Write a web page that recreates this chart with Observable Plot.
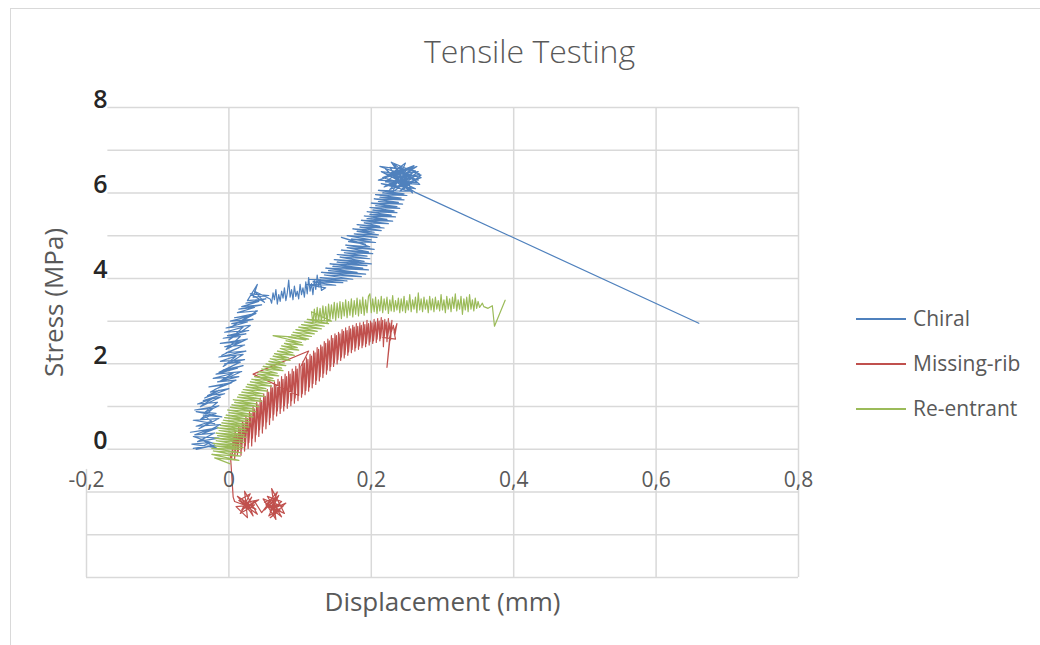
<!DOCTYPE html>
<html>
<head>
<meta charset="utf-8">
<script src="https://cdn.jsdelivr.net/npm/d3@7"></script>
<script src="https://cdn.jsdelivr.net/npm/@observablehq/plot@0.6"></script>
<style>
  html, body { margin: 0; padding: 0; background: #fff; }
  #wrap { position: relative; width: 1040px; height: 645px; overflow: hidden; font-family: 'Open Sans', sans-serif; }
  #border { position: absolute; left: 10px; top: 8px; width: 1200px; height: 800px; border-left: 1.3px solid #d9d9d9; border-top: 1.3px solid #d9d9d9; }
  #chart { position: absolute; left: 0; top: 0; }
  .lg-line { position: absolute; height: 1.5px; width: 50px; }
  .lg-text { position: absolute; font-size: 21px; color: #595959; line-height: 28px; white-space: nowrap; }
</style>
</head>
<body>
<div id="wrap"><div id="border"></div><div id="chart"></div><div id="legend"></div></div>
<script>
const chartTitle = "Tensile Testing";
const xTitle = "Displacement (mm)";
const yTitle = "Stress (MPa)";
const seriesNames = ["Chiral", "Missing-rib", "Re-entrant"];
const seriesColors = ["#4f81bd", "#c0504d", "#9bbb59"];
const yTicks = [0, 2, 4, 6, 8];
const yGrid = [-3, -2, -1, 0, 1, 2, 3, 4, 5, 6, 7, 8];
const xTicks = [-0.2, 0, 0.2, 0.4, 0.6, 0.8];
const xTickLabels = ["-0,2", "0", "0,2", "0,4", "0,6", "0,8"];
const upperGridStart = -0.17;
const leftLineTop = -0.47;

// Chiral: [displacement mm, stress MPa]
const chiral = [
[-0.050,0.02],[-0.020,0.10],[-0.046,0.00],[-0.026,0.16],[-0.052,0.12],[-0.018,0.04],[-0.040,0.24],[-0.022,0.14],[-0.050,0.30],[-0.014,0.26],
[-0.044,0.18],[-0.020,0.38],[-0.048,0.34],[-0.028,0.46],[-0.054,0.40],[-0.016,0.50],[-0.038,0.36],[-0.012,0.58],[-0.046,0.54],[-0.024,0.66],
[-0.042,0.48],[-0.014,0.72],[-0.050,0.68],[-0.020,0.60],[-0.036,0.80],[-0.010,0.76],[-0.046,0.88],[-0.018,0.84],[-0.040,0.70],[-0.022,0.96],
[-0.048,0.92],[-0.014,1.02],[-0.034,0.86],[-0.016,1.10],[-0.044,1.06],[-0.024,1.18],[-0.040,1.00],[-0.012,1.22],[-0.036,1.14],[-0.006,1.30],
[-0.030,1.26],[-0.014,1.38],[-0.034,1.20],[0.000,1.42],[-0.026,1.34],[-0.008,1.50],[-0.028,1.46],[0.004,1.56],[-0.020,1.40],[0.010,1.62],
[-0.016,1.58],[0.014,1.70],[-0.022,1.66],[0.006,1.78],[-0.012,1.60],[0.018,1.82],[-0.018,1.76],[0.012,1.90],[-0.008,1.86],[0.020,1.96],
[-0.014,1.80],[0.016,2.04],[-0.006,2.00],[0.022,2.10],[-0.012,2.06],[0.010,2.18],[-0.008,1.94],[0.020,2.22],[-0.014,2.16],[0.024,2.30],
[-0.004,2.26],[0.014,2.38],[-0.010,2.20],[0.022,2.44],[-0.006,2.40],[0.018,2.52],[-0.012,2.48],[0.026,2.58],[-0.004,2.34],[0.016,2.64],
[-0.008,2.60],[0.024,2.70],[-0.002,2.66],[0.028,2.78],[-0.006,2.74],[0.020,2.86],[0.000,2.56],[0.030,2.90],[-0.004,2.84],[0.026,2.98],
[0.004,2.94],[0.034,3.04],[0.002,3.00],[0.030,3.12],[0.008,3.08],[0.038,3.18],[0.006,2.90],[0.040,3.24],[0.012,3.20],[0.036,3.32],
[0.014,3.28],[0.046,3.38],[0.018,3.34],[0.042,3.46],[0.024,3.42],[0.052,3.52],[0.026,3.48],[0.040,3.86],[0.034,3.56],[0.056,3.60],
[0.030,3.64],[0.050,3.44],[0.036,3.70],[0.058,3.52],
[0.060,3.42],[0.062,3.66],[0.064,3.50],[0.066,3.74],[0.068,3.40],[0.070,3.62],[0.072,3.46],[0.074,3.70],[0.076,3.54],[0.078,3.78],
[0.080,3.48],[0.082,3.66],[0.084,3.96],[0.086,3.56],[0.088,3.74],[0.090,3.50],[0.092,3.82],[0.094,3.58],[0.096,3.70],[0.098,3.52],
[0.100,3.86],[0.102,3.62],[0.104,3.78],[0.106,3.56],[0.108,3.92],[0.110,3.64],[0.112,4.02],[0.114,3.70],[0.116,3.88],[0.118,3.62],
[0.120,3.96],[0.122,3.74],[0.124,4.08],[0.126,3.80],[0.128,3.98],[0.130,3.72],
[0.136,3.78],[0.108,3.86],[0.150,3.84],[0.118,3.92],[0.160,3.90],[0.112,3.98],[0.166,3.94],[0.128,4.02],[0.174,3.98],[0.134,4.08],
[0.186,4.04],[0.130,4.14],[0.192,4.10],[0.140,4.18],[0.180,4.14],[0.136,4.24],[0.196,4.20],[0.146,4.28],[0.188,4.24],[0.142,4.34],
[0.194,4.30],[0.152,4.38],[0.200,4.34],[0.148,4.44],[0.190,4.40],[0.156,4.50],[0.198,4.46],[0.152,4.56],[0.194,4.52],[0.162,4.60],
[0.202,4.58],[0.158,4.66],[0.196,4.62],[0.166,4.72],[0.204,4.68],[0.164,4.78],[0.198,4.74],[0.158,4.96],[0.192,4.80],[0.168,4.86],
[0.206,4.84],[0.172,4.92],[0.200,4.90],[0.166,5.00],[0.208,4.96],[0.176,5.04],[0.210,5.02],[0.180,5.10],[0.204,5.08],[0.174,5.16],
[0.214,5.12],[0.184,5.20],[0.218,5.18],[0.180,5.26],[0.212,5.22],[0.190,5.30],[0.224,5.28],[0.186,5.36],[0.230,5.34],[0.194,5.40],
[0.222,5.38],[0.190,5.46],[0.234,5.44],[0.198,5.50],[0.228,5.48],[0.194,5.56],[0.236,5.54],[0.202,5.60],[0.232,5.58],[0.198,5.66],
[0.240,5.64],[0.206,5.70],[0.236,5.68],[0.200,5.76],[0.244,5.74],[0.210,5.80],[0.238,5.78],[0.204,5.86],[0.246,5.84],[0.212,5.90],
[0.242,5.88],[0.206,5.96],[0.250,5.94],[0.216,6.00],[0.246,5.98],[0.210,6.06],[0.254,6.04],
[0.214,6.22],[0.262,6.10],[0.218,6.46],[0.266,6.30],[0.212,6.62],[0.256,6.52],[0.222,6.18],[0.268,6.44],[0.228,6.72],[0.250,6.20],
[0.216,6.36],[0.260,6.64],[0.226,6.08],[0.270,6.36],[0.220,6.56],[0.252,6.06],[0.232,6.68],[0.264,6.24],[0.210,6.30],[0.258,6.58],
[0.236,6.12],[0.266,6.50],[0.224,6.40],[0.248,6.70],[0.230,6.02],[0.262,6.40],[0.214,6.50],[0.254,6.16],[0.240,6.62],[0.268,6.20],
[0.220,6.26],[0.244,6.54],[0.258,6.00],[0.228,6.48],[0.264,6.62],[0.234,6.30],[0.256,6.34],[0.218,6.14],[0.250,6.46],[0.238,6.22],
[0.262,6.52],[0.226,6.60],[0.246,6.10],[0.270,6.42],[0.232,6.40],[0.254,6.26],[0.240,6.04],[0.260,6.30],[0.236,6.54],[0.250,6.14],
[0.261,6.02],[0.660,2.95]
];

// Missing-rib
const missingRib = [
[0.062,-1.20],[0.050,-1.42],[0.070,-1.08],[0.056,-1.56],[0.076,-1.34],[0.048,-1.16],[0.066,-1.64],[0.060,-0.92],[0.078,-1.50],[0.052,-1.30],
[0.068,-1.00],[0.058,-1.46],[0.074,-1.22],[0.054,-1.10],[0.064,-1.38],[0.080,-1.26],[0.058,-1.60],[0.072,-1.42],[0.050,-1.24],[0.066,-1.12],
[0.062,-1.52],[0.070,-1.30],[0.056,-1.34],[0.074,-1.58],[0.060,-1.18],[0.046,-1.48],
[0.036,-1.22],[0.018,-1.42],[0.030,-1.04],[0.014,-1.20],[0.040,-1.52],[0.022,-0.98],[0.026,-1.60],[0.010,-1.34],[0.036,-1.30],[0.016,-1.50],
[0.032,-1.12],[0.024,-1.38],[0.042,-1.18],[0.020,-1.26],[0.030,-1.46],[0.012,-1.10],[0.028,-1.28],[0.034,-1.56],[0.018,-1.16],[0.038,-1.40],
[0.008,-1.22],[0.006,-1.12],[0.002,-0.10],
[0.004,-0.20],[0.006,0.30],[0.005,-0.10],[0.009,0.44],[0.008,-0.24],[0.011,0.36],[0.012,-0.12],[0.014,0.56],[0.013,-0.06],[0.016,0.50],
[0.017,-0.14],[0.019,0.66],[0.018,0.02],[0.021,0.62],[0.022,-0.04],[0.024,0.78],[0.023,0.08],[0.026,0.72],[0.027,0.02],[0.029,0.90],
[0.028,0.16],[0.031,0.84],[0.032,0.08],[0.034,1.00],[0.033,0.26],[0.036,0.94],[0.037,0.18],[0.039,1.10],[0.038,0.34],[0.041,1.04],
[0.042,0.30],[0.044,1.20],[0.043,0.46],[0.046,1.14],[0.047,0.38],[0.049,1.30],[0.048,0.54],[0.051,1.24],[0.052,0.48],[0.054,1.40],
[0.053,0.64],[0.056,1.34],[0.057,0.58],[0.059,1.50],[0.058,0.74],[0.061,1.44],[0.062,0.68],[0.064,1.58],[0.063,0.82],[0.066,1.52],
[0.067,0.78],[0.069,1.64],[0.068,0.90],[0.071,1.58],[0.072,0.84],[0.074,1.70],[0.073,0.96],[0.076,1.64],[0.077,0.90],[0.079,1.76],
[0.078,1.02],[0.081,1.70],[0.082,0.96],[0.084,1.82],[0.083,1.08],[0.086,1.76],[0.087,1.02],[0.089,1.88],[0.088,1.14],[0.091,1.82],
[0.092,1.08],[0.094,1.94],[0.093,1.20],[0.096,1.88],[0.097,1.14],[0.099,2.00],[0.098,1.26],[0.034,1.76],[0.112,2.30],[0.101,1.94],
[0.102,1.22],[0.104,2.06],[0.103,1.30],[0.106,2.02],[0.107,1.28],[0.109,2.14],[0.108,1.38],[0.111,2.10],[0.112,1.36],[0.114,2.22],
[0.113,1.46],[0.116,2.18],[0.117,1.44],[0.119,2.30],[0.118,1.54],[0.121,2.26],[0.122,1.52],[0.124,2.38],[0.123,1.62],[0.126,2.34],
[0.127,1.60],[0.129,2.44],[0.128,1.70],[0.131,2.40],[0.132,1.68],[0.134,2.52],[0.133,1.78],[0.136,2.48],[0.137,1.76],[0.139,2.58],
[0.138,1.86],[0.141,2.54],[0.142,1.84],[0.144,2.66],[0.143,1.94],[0.146,2.60],[0.147,1.94],[0.149,2.70],[0.148,2.02],[0.151,2.66],
[0.152,2.00],[0.154,2.74],[0.153,2.10],[0.156,2.70],[0.157,2.08],[0.159,2.80],[0.158,2.16],[0.161,2.76],[0.162,2.14],[0.164,2.84],
[0.163,2.22],[0.166,2.78],[0.167,2.20],[0.169,2.88],[0.168,2.28],[0.171,2.82],[0.172,2.26],[0.174,2.90],[0.173,2.34],[0.176,2.86],
[0.177,2.30],[0.179,2.94],[0.178,2.38],[0.181,2.88],[0.182,2.34],[0.184,2.96],[0.183,2.42],[0.186,2.90],[0.187,2.38],[0.189,2.98],
[0.188,2.44],[0.191,2.92],[0.192,2.40],[0.194,3.02],[0.193,2.48],[0.196,2.94],[0.197,2.44],[0.199,3.00],[0.198,2.52],[0.201,2.96],
[0.202,2.48],[0.204,3.04],[0.203,2.54],[0.206,2.98],[0.207,2.50],[0.209,3.06],[0.208,2.58],[0.211,3.00],[0.212,2.54],[0.214,3.08],
[0.213,2.60],[0.216,3.02],[0.217,2.40],[0.219,3.04],[0.218,2.62],[0.221,2.98],[0.222,2.52],[0.224,3.06],[0.223,2.64],[0.226,2.96],
[0.227,2.56],[0.229,3.02],[0.222,1.92],[0.226,2.64],[0.231,2.90],[0.233,2.66],[0.236,2.94],[0.232,2.74],[0.234,2.58],[0.216,2.62]
];

// Re-entrant
const reEntrant = [
[0.002,-0.34],[-0.020,-0.20],[0.014,-0.26],[-0.024,-0.12],[0.016,-0.16],[-0.022,-0.04],[0.018,-0.08],[-0.024,0.02],[0.016,0.00],[-0.020,0.08],
[0.020,0.04],[-0.022,0.14],[0.018,0.10],[-0.018,0.20],[0.022,0.16],[-0.020,0.26],[0.020,0.22],[-0.016,0.32],[0.024,0.28],[-0.018,0.38],
[0.022,0.34],[-0.014,0.44],[0.026,0.40],[-0.016,0.50],[0.024,0.46],[-0.012,0.56],[0.028,0.52],[-0.010,0.62],[0.026,0.58],[-0.008,0.68],
[0.030,0.64],[-0.006,0.74],[0.028,0.70],[-0.004,0.80],[0.034,0.76],[0.000,0.86],[0.032,0.82],[-0.002,0.92],[0.038,0.88],[0.002,0.98],
[0.036,0.94],[0.004,1.04],[0.042,1.00],[0.008,1.10],[0.040,1.06],[0.006,1.16],[0.046,1.12],[0.012,1.22],[0.044,1.18],[0.014,1.28],
[0.050,1.24],[0.018,1.34],[0.048,1.30],[0.020,1.40],[0.054,1.36],[0.024,1.46],[0.052,1.42],[0.026,1.52],[0.060,1.48],[0.030,1.58],
[0.058,1.54],[0.032,1.64],[0.064,1.60],[0.036,1.70],[0.062,1.66],[0.040,1.76],[0.070,1.72],[0.042,1.82],[0.068,1.78],[0.046,1.88],
[0.076,1.84],[0.048,1.94],[0.074,1.90],[0.052,2.00],[0.080,1.96],[0.056,2.06],[0.078,2.02],[0.058,2.12],[0.086,2.08],[0.062,2.18],
[0.084,2.14],[0.064,2.24],[0.092,2.20],[0.068,2.30],[0.090,2.26],[0.072,2.36],[0.098,2.32],[0.074,2.42],[0.096,2.38],[0.078,2.48],
[0.104,2.44],[0.080,2.54],[0.102,2.50],[0.062,2.66],[0.088,2.63],[0.108,2.56],[0.084,2.62],[0.112,2.58],[0.088,2.68],[0.116,2.64],
[0.090,2.74],[0.120,2.70],[0.094,2.80],[0.124,2.76],[0.098,2.86],[0.130,2.82],[0.102,2.92],[0.134,2.88],[0.106,2.98],[0.140,2.94],
[0.110,3.04],[0.144,3.00],
[0.116,3.22],[0.118,2.96],[0.120,3.28],[0.122,2.98],[0.124,3.32],[0.126,3.00],[0.128,3.30],[0.130,2.98],[0.132,3.36],[0.134,3.02],
[0.136,3.34],[0.138,2.94],[0.140,3.40],[0.142,3.04],[0.144,3.38],[0.146,3.06],[0.148,3.44],[0.150,3.02],[0.152,3.42],[0.154,3.08],
[0.156,3.46],[0.158,3.06],[0.160,3.44],[0.162,3.12],[0.164,3.50],[0.166,3.08],[0.168,3.46],[0.170,3.14],[0.172,3.52],[0.174,3.10],
[0.176,3.48],[0.178,3.16],[0.180,3.54],[0.182,3.12],[0.184,3.50],[0.186,3.18],[0.188,3.56],[0.190,3.14],[0.192,3.50],[0.194,3.20],
[0.196,3.58],[0.198,3.64],[0.200,3.20],[0.202,3.52],[0.204,3.22],[0.206,3.56],[0.208,3.18],[0.210,3.50],[0.212,3.24],[0.214,3.58],
[0.216,3.20],[0.218,3.52],[0.220,3.26],[0.222,3.56],[0.224,3.18],[0.226,3.50],[0.228,3.24],[0.230,3.60],[0.232,3.22],[0.234,3.48],
[0.236,3.26],[0.238,3.54],[0.240,3.20],[0.242,3.52],[0.244,3.24],[0.246,3.58],[0.248,3.20],[0.250,3.48],[0.252,3.26],[0.254,3.62],
[0.256,3.22],[0.258,3.50],[0.260,3.28],[0.262,3.56],[0.264,3.20],[0.266,3.66],[0.268,3.26],[0.270,3.52],[0.272,3.22],[0.274,3.56],
[0.276,3.28],[0.278,3.50],[0.280,3.20],[0.282,3.58],[0.284,3.26],[0.286,3.52],[0.288,3.22],[0.290,3.56],[0.292,3.28],[0.294,3.48],
[0.296,3.24],[0.298,3.62],[0.300,3.26],[0.302,3.50],[0.304,3.20],[0.306,3.58],[0.308,3.28],[0.310,3.52],[0.312,3.22],[0.314,3.56],
[0.316,3.30],[0.318,3.64],[0.320,3.24],[0.322,3.50],[0.324,3.28],[0.326,3.58],[0.328,3.16],[0.330,3.52],[0.332,3.26],[0.334,3.56],
[0.336,3.22],[0.338,3.62],[0.340,3.28],[0.342,3.50],[0.344,3.24],[0.346,3.54],[0.348,3.30],[0.350,3.46],[0.352,3.32],[0.356,3.42],
[0.358,3.34],[0.364,3.30],[0.370,3.36],[0.373,2.88],[0.388,3.49]
];

const seriesData = [chiral, missingRib, reEntrant];

const plot = Plot.plot({
  width: 1040,
  height: 645,
  marginLeft: 86,
  marginRight: 242,
  marginTop: 107,
  marginBottom: 68,
  x: {domain: [-0.2, 0.8], axis: null},
  y: {domain: [-3, 8], axis: null},
  style: {fontFamily: "'Open Sans', sans-serif", background: "transparent", overflow: "visible"},
  marks: [
    Plot.ruleY(yGrid, {y: d => d, x1: d => d >= 0 ? upperGridStart : -0.2, x2: 0.8, stroke: "#d9d9d9", strokeWidth: 1.5}),
    Plot.ruleX(xTicks, {x: d => d, y1: d => d === -0.2 ? leftLineTop : 8, y2: -3, stroke: "#d9d9d9", strokeWidth: 1.5}),
    ...seriesData.map((s, i) => Plot.line(s, {x: d => d[0], y: d => d[1], stroke: seriesColors[i], strokeWidth: 1.2})),
    Plot.text(yTicks, {frameAnchor: "left", y: d => d, text: d => String(d), textAnchor: "end", lineAnchor: "middle", dx: 21, dy: -8, fontSize: 25, fontWeight: 600, fill: "#262626"}),
    Plot.text(xTicks, {x: d => d, y: 0, text: (d, i) => xTickLabels[i], lineAnchor: "middle", dy: 31, fontSize: 21, fill: "#595959"}),
    Plot.text([xTitle], {frameAnchor: "bottom", text: d => d, textAnchor: "middle", lineAnchor: "middle", dy: 25, fontSize: 26, fill: "#595959"}),
    Plot.text([yTitle], {frameAnchor: "left", text: d => d, rotate: -90, textAnchor: "middle", lineAnchor: "middle", dx: -32, dy: -40, fontSize: 26, fill: "#595959"}),
    Plot.text([chartTitle], {frameAnchor: "top", text: d => d, textAnchor: "middle", lineAnchor: "middle", dx: 87, dy: -55, fontSize: 32, fontWeight: 300, fill: "#595959"})
  ]
});
document.getElementById("chart").appendChild(plot);

// Legend
const legendTops = [319, 364, 409];
const legend = document.getElementById("legend");
seriesNames.forEach((name, i) => {
  const ln = document.createElement("div");
  ln.className = "lg-line";
  ln.style.left = "856px";
  ln.style.top = (legendTops[i] - 0.75) + "px";
  ln.style.background = seriesColors[i];
  legend.appendChild(ln);
  const tx = document.createElement("div");
  tx.className = "lg-text";
  tx.style.left = "913px";
  tx.style.top = (legendTops[i] - 15) + "px";
  tx.textContent = name;
  legend.appendChild(tx);
});
</script>
</body>
</html>
